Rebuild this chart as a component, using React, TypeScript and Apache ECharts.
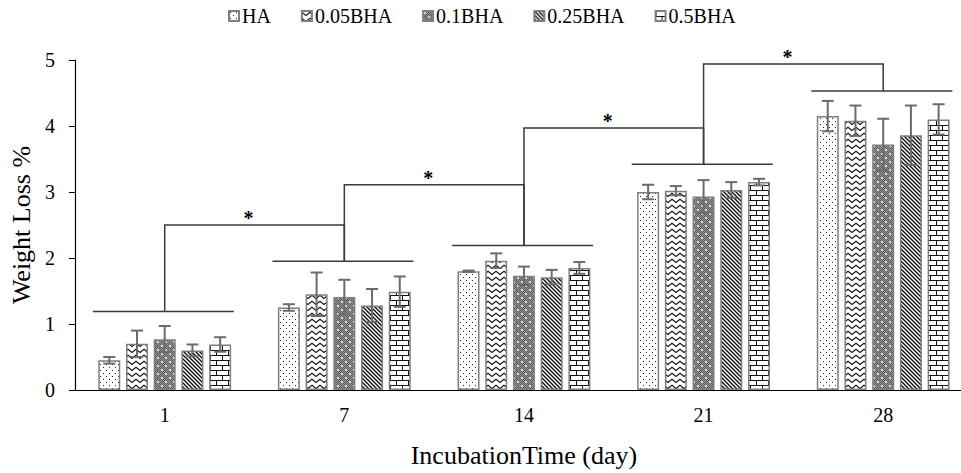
import React, { useEffect, useRef } from "react";
import * as echarts from "echarts";

const categories = ["1", "7", "14", "21", "28"];
const seriesNames = ["HA", "0.05BHA", "0.1BHA", "0.25BHA", "0.5BHA"];

const haValues = [0.45, 1.25, 1.8, 3.0, 4.15];
const bha005Values = [0.7, 1.45, 1.96, 3.02, 4.08];
const bha01Values = [0.77, 1.41, 1.73, 2.93, 3.72];
const bha025Values = [0.6, 1.28, 1.71, 3.03, 3.86];
const bha05Values = [0.69, 1.49, 1.85, 3.15, 4.1];

const haErr = [0.05, 0.05, 0.01, 0.11, 0.23];
const bha005Err = [0.2, 0.33, 0.11, 0.07, 0.23];
const bha01Err = [0.2, 0.26, 0.14, 0.25, 0.39];
const bha025Err = [0.09, 0.25, 0.11, 0.12, 0.45];
const bha05Err = [0.11, 0.23, 0.09, 0.05, 0.23];

// significance brackets
const groupLineY = [1.19, 1.95, 2.19, 3.42, 4.53];
const bracketTopY = [2.5, 3.11, 3.97, 4.94];
const bracketMark = ["*", "*", "*", "*"];

const yTicks = [0, 1, 2, 3, 4, 5];

const FONT = "'Liberation Serif', 'Times New Roman', serif";
const BAR_W = 22;
const BAR_GAP = 0.26;

function makePattern(w: number, h: number, draw: (ctx: CanvasRenderingContext2D) => void) {
  const c = document.createElement("canvas");
  c.width = w;
  c.height = h;
  const ctx = c.getContext("2d")!;
  ctx.fillStyle = "#ffffff";
  ctx.fillRect(0, 0, w, h);
  draw(ctx);
  return { image: c, repeat: "repeat" };
}

function buildPatterns() {
  const dots = makePattern(6, 6, (ctx) => {
    ctx.fillStyle = "#222";
    ctx.fillRect(1, 1, 1, 1);
    ctx.fillRect(4, 4, 1, 1);
  });
  const zigzag = makePattern(8, 6, (ctx) => {
    ctx.strokeStyle = "#111";
    ctx.lineWidth = 1.1;
    ctx.beginPath();
    ctx.moveTo(-1, 0.5);
    ctx.lineTo(4, 4.5);
    ctx.lineTo(9, 0.5);
    ctx.stroke();
  });
  const grayDots = makePattern(8, 8, (ctx) => {
    for (let x = 0; x < 8; x++) {
      for (let y = 0; y < 8; y++) {
        ctx.fillStyle = (x + y) % 2 === 0 ? "#585858" : "#9a9a9a";
        ctx.fillRect(x, y, 1, 1);
      }
    }
    ctx.fillStyle = "#dcdcdc";
    ctx.fillRect(1, 1, 2, 2);
    ctx.fillRect(5, 5, 2, 2);
  });
  const diag = makePattern(4, 4, (ctx) => {
    ctx.strokeStyle = "#111";
    ctx.lineWidth = 1.4;
    ctx.beginPath();
    ctx.moveTo(-1, -1);
    ctx.lineTo(5, 5);
    ctx.moveTo(3, -1);
    ctx.lineTo(5, 1);
    ctx.moveTo(-1, 3);
    ctx.lineTo(1, 5);
    ctx.stroke();
  });
  const bricks = makePattern(12, 10, (ctx) => {
    ctx.fillStyle = "#111";
    ctx.fillRect(0, 0, 12, 1);
    ctx.fillRect(0, 5, 12, 1);
    ctx.fillRect(0, 0, 1, 5);
    ctx.fillRect(6, 5, 1, 5);
  });
  return [dots, zigzag, grayDots, diag, bricks];
}

export default function App() {
  const ref = useRef<HTMLDivElement>(null);

  useEffect(() => {
    if (!ref.current) return;
    const chart = echarts.init(ref.current, undefined, { renderer: "svg" });
    const patterns = buildPatterns();
    const values = [haValues, bha005Values, bha01Values, bha025Values, bha05Values];
    const errs = [haErr, bha005Err, bha01Err, bha025Err, bha05Err];
    const step = BAR_W * (1 + BAR_GAP);

    const barSeries = seriesNames.map((name, s) => ({
      name,
      type: "bar",
      data: values[s],
      barWidth: BAR_W,
      barGap: `${BAR_GAP * 100}%`,
      itemStyle: { color: patterns[s], borderColor: "#7f7f7f", borderWidth: 1.5 },
      z: 2,
    }));

    const errSeries = seriesNames.map((_, s) => ({
      type: "custom",
      z: 5,
      clip: false,
      silent: true,
      data: values[s].map((v, i) => [i, v, errs[s][i]]),
      renderItem: (params: any, api: any) => {
        const i = api.value(0);
        const v = api.value(1);
        const e = api.value(2);
        const x = api.coord([i, v])[0] + (s - 2) * step;
        const yTop = api.coord([i, v + e])[1];
        const yBot = api.coord([i, v - e])[1];
        const style = { stroke: "#6b6b6b", lineWidth: 2 };
        return {
          type: "group",
          children: [
            { type: "line", shape: { x1: x, y1: yTop, x2: x, y2: yBot }, style },
            { type: "line", shape: { x1: x - 6, y1: yTop, x2: x + 6, y2: yTop }, style },
            { type: "line", shape: { x1: x - 6, y1: yBot, x2: x + 6, y2: yBot }, style },
          ],
        };
      },
    }));

    const bracketSeries = {
      type: "custom",
      z: 6,
      clip: false,
      silent: true,
      data: groupLineY.map((y, i) => [i, y]),
      renderItem: (params: any, api: any) => {
        const i = api.value(0);
        const y = api.value(1);
        const band = api.size([1, 0])[0];
        const p = api.coord([i, y]);
        const style = { stroke: "#3a3a3a", lineWidth: 1.5 };
        const children: any[] = [
          { type: "line", shape: { x1: p[0] - 0.4 * band, y1: p[1], x2: p[0] + 0.385 * band, y2: p[1] }, style },
        ];
        if (i < bracketTopY.length) {
          const top = api.coord([i, bracketTopY[i]]);
          const next = api.coord([i + 1, groupLineY[i + 1]]);
          children.push({
            type: "polyline",
            shape: { points: [[p[0], p[1]], [p[0], top[1]], [next[0], top[1]], [next[0], next[1]]] },
            style: { ...style, fill: null },
          });
          children.push({
            type: "text",
            style: {
              text: bracketMark[i],
              x: (p[0] + next[0]) / 2 - 6,
              y: top[1] + 3,
              fill: "#000",
              font: `bold 20px ${FONT}`,
              align: "center",
              verticalAlign: "bottom",
            },
          });
        }
        return { type: "group", children };
      },
    };

    chart.setOption({
      animation: false,
      textStyle: { fontFamily: FONT },
      legend: {
        data: seriesNames,
        top: 1,
        left: 223,
        itemWidth: 10,
        itemHeight: 10,
        itemGap: 30,
        icon: "rect",
        textStyle: { fontSize: 20, fontFamily: FONT, color: "#000", padding: [0, 0, 0, -2] },
      },
      grid: { left: 72, top: 60, right: 0, bottom: 80, containLabel: false },
      xAxis: {
        type: "category",
        data: categories,
        axisTick: { show: false },
        axisLine: { lineStyle: { color: "#000", width: 1.2 } },
        axisLabel: { fontSize: 20, fontFamily: FONT, color: "#000", margin: 15 },
        name: "IncubationTime (day)",
        nameLocation: "middle",
        nameGap: 52,
        nameTextStyle: { fontSize: 26, fontFamily: FONT, color: "#000" },
      },
      yAxis: {
        type: "value",
        min: yTicks[0],
        max: yTicks[yTicks.length - 1],
        interval: 1,
        splitLine: { show: false },
        axisLine: { show: true, lineStyle: { color: "#000", width: 1.2 } },
        axisTick: { show: true, length: 6, lineStyle: { color: "#000" } },
        axisLabel: { fontSize: 20, fontFamily: FONT, color: "#000", margin: 20 },
        name: "Weight Loss %",
        nameLocation: "middle",
        nameGap: 40,
        nameTextStyle: { fontSize: 26, fontFamily: FONT, color: "#000" },
      },
      series: [...barSeries, ...errSeries, bracketSeries],
    });
    return () => chart.dispose();
  }, []);

  return (
    <div
      style={{
        position: "fixed",
        left: 0,
        top: 0,
        width: 961,
        height: 473,
        overflow: "hidden",
        background: "#fff",
      }}
    >
      <div ref={ref} style={{ width: 973, height: 473 }} />
    </div>
  );
}
